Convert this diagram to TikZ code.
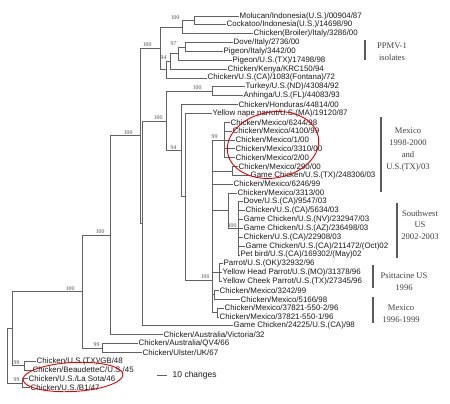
\documentclass[tikz,border=0pt]{standalone}
\usepackage{fontspec}
\setmainfont{Liberation Serif}
\newfontfamily\labelfont{Liberation Sans}
\usepackage{tikz}
\usetikzlibrary{shapes.geometric, positioning}

\tikzstyle{leaf}   = [anchor=west, inner sep=0.5pt, text=black!90, font=\labelfont\fontsize{7.9}{8}\selectfont]
\tikzstyle{branch} = [draw=black!62, line width=0.8pt]
\tikzstyle{boot}   = [anchor=south east, inner sep=0.3pt, text=black!70, font=\fontsize{5.8}{6}\selectfont]
\tikzstyle{note}   = [align=center, text=black!75, font=\fontsize{8.6}{11.8}\selectfont]
\tikzstyle{bar}    = [rectangle, fill=black!65, minimum width=2.4pt, inner sep=0pt]
\tikzstyle{ring}   = [ellipse, draw=red!90!black, line width=0.9pt, inner sep=0pt]

\begin{document}
\begin{tikzpicture}[x=1pt, y=-1pt]

\useasboundingbox (0,0) rectangle (450,404);

\coordinate (root)   at (7,356);
\coordinate (up)     at (12,328.6);
\coordinate (lsb1)   at (22,383.3);
\coordinate (gbbe)   at (24,365.6);
\coordinate (vir)    at (82,291.55);
\coordinate (aus)    at (102,347.9);
\coordinate (vir2)   at (110,235.2);
\coordinate (mid)    at (140,135.8);
\coordinate (ppmv)   at (160,48.35);
\coordinate (bird1)  at (182,27.05);
\coordinate (indo)   at (194,20.4);
\coordinate (pig3)   at (166,69.65);
\coordinate (pig2)   at (170,61.35);
\coordinate (pig1)   at (178,53.6);
\coordinate (pigeu)  at (185,47);
\coordinate (amer)   at (142,223.3);
\coordinate (amer2)  at (166,120.9);
\coordinate (tuan)   at (212,91.2);
\coordinate (hond2)  at (181,150.6);
\coordinate (ynp)    at (185,196.7);
\coordinate (mexus)  at (212,280);
\coordinate (mx99)   at (224,139.9);
\coordinate (mxtx)   at (232,170.9);
\coordinate (sw3313) at (228,210.7);
\coordinate (swus)   at (238,228.4);
\coordinate (psitt)  at (219,272.65);
\coordinate (mx9899) at (214,294.8);
\coordinate (mx96)   at (217,312.5);

\node (mol)       [leaf] at (239,16)     {Molucan/Indonesia(U.S.)/00904/87};
\node (cock)      [leaf] at (226,24.85)  {Cockatoo/Indonesia(U.S.)/14698/90};
\node (broil)     [leaf] at (253,33.7)   {Chicken(Broiler)/Italy/3286/00};
\node (doveit)    [leaf] at (233,42.55)  {Dove/Italy/2736/00};
\node (pigit)     [leaf] at (223,51.4)   {Pigeon/Italy/3442/00};
\node (pigtx)     [leaf] at (232,60.25)  {Pigeon/U.S.(TX)/17498/98};
\node (kenya)     [leaf] at (227,69.1)   {Chicken/Kenya/KRC150/94};
\node (fontana)   [leaf] at (207,77.95)  {Chicken/U.S.(CA)/1083(Fontana)/72};
\node (turkey)    [leaf] at (245,86.8)   {Turkey/U.S.(ND)/43084/92};
\node (anhinga)   [leaf] at (243,95.65)  {Anhinga/U.S.(FL)/44083/93};
\node (hond)      [leaf] at (238,104.5)  {Chicken/Honduras/44814/00};
\node (ynape)     [leaf] at (212,113.35) {Yellow nape parrot/U.S.(MA)/19120/87};
\node (mex6244)   [leaf] at (230,122.2)  {Chicken/Mexico/6244/98};
\node (mex4100)   [leaf] at (232,131.05) {Chicken/Mexico/4100/99};
\node (mex1)      [leaf] at (235,139.9)  {Chicken/Mexico/1/00};
\node (mex3310)   [leaf] at (235,148.75) {Chicken/Mexico/3310/00};
\node (mex2)      [leaf] at (235,157.6)  {Chicken/Mexico/2/00};
\node (mex290)    [leaf] at (238,166.45) {Chicken/Mexico/290/00};
\node (gametx)    [leaf] at (250,175.3)  {Game Chicken/U.S.(TX)/248306/03};
\node (mex6246)   [leaf] at (233,184.15) {Chicken/Mexico/6246/99};
\node (mex3313)   [leaf] at (237,193)    {Chicken/Mexico/3313/00};
\node (doveca)    [leaf] at (243,201.85) {Dove/U.S.(CA)/9547/03};
\node (ca5634)    [leaf] at (245,210.7)  {Chicken/U.S.(CA)/5634/03};
\node (gamenv)    [leaf] at (243,219.55) {Game Chicken/U.S.(NV)/232947/03};
\node (gameaz)    [leaf] at (243,228.4)  {Game Chicken/U.S.(AZ)/236498/03};
\node (ca22908)   [leaf] at (243,237.25) {Chicken/U.S.(CA)/22908/03};
\node (gameca)    [leaf] at (245,246.1)  {Game Chicken/U.S.(CA)/211472/(Oct)02};
\node (petbird)   [leaf] at (240,254.95) {Pet bird/U.S.(CA)/169302/(May)02};
\node (parrotok)  [leaf] at (223,263.8)  {Parrot/U.S.(OK)/32932/96};
\node (yhparrot)  [leaf] at (222,272.65) {Yellow Head Parrot/U.S.(MO)/31378/96};
\node (ycparrot)  [leaf] at (222,281.5)  {Yellow Cheek Parrot/U.S.(TX)/27345/96};
\node (mex3242)   [leaf] at (219,290.35) {Chicken/Mexico/3242/99};
\node (mex5166)   [leaf] at (240,299.2)  {Chicken/Mexico/5166/98};
\node (mex5502)   [leaf] at (224,308.05) {Chicken/Mexico/37821-550-2/96};
\node (mex5501)   [leaf] at (219,316.9)  {Chicken/Mexico/37821-550-1/96};
\node (game24225) [leaf] at (233,325.75) {Game Chicken/24225/U.S.(CA)/98};
\node (ausvic)    [leaf] at (163,334.6)  {Chicken/Australia/Victoria/32};
\node (ausqv4)    [leaf] at (138,343.45) {Chicken/Australia/QV4/66};
\node (ulster)    [leaf] at (142,352.3)  {Chicken/Ulster/UK/67};
\node (gb48)      [leaf] at (36,361.15)  {Chicken/U.S.(TX)/GB/48};
\node (beau45)    [leaf] at (32,370)     {Chicken/BeaudetteC/U.S./45};
\node (lasota)    [leaf] at (28,378.85)  {Chicken/U.S./La Sota/46};
\node (bone)      [leaf] at (30,387.7)   {Chicken/U.S./B1/47};

\draw [branch] (root)   |- (up);
\draw [branch] (root)   |- (lsb1);
\draw [branch] (up)     |- (vir);
\draw [branch] (up)     |- (gbbe);
\draw [branch] (gbbe)   |- (gb48.west);
\draw [branch] (gbbe)   |- (beau45.west);
\draw [branch] (lsb1)   |- (lasota.west);
\draw [branch] (lsb1)   |- (bone.west);
\draw [branch] (vir)    |- (vir2);
\draw [branch] (vir)    |- (aus);
\draw [branch] (aus)    |- (ausqv4.west);
\draw [branch] (aus)    |- (ulster.west);
\draw [branch] (vir2)   |- (mid);
\draw [branch] (vir2)   |- (ausvic.west);
\draw [branch] (mid)    |- (ppmv);
\draw [branch] (mid)    |- (amer);
\draw [branch] (ppmv)   |- (bird1);
\draw [branch] (ppmv)   |- (pig3);
\draw [branch] (bird1)  |- (indo);
\draw [branch] (bird1)  |- (broil.west);
\draw [branch] (indo)   |- (mol.west);
\draw [branch] (indo)   |- (cock.west);
\draw [branch] (pig3)   |- (pig2);
\draw [branch] (pig3)   |- (fontana.west);
\draw [branch] (pig2)   |- (pig1);
\draw [branch] (pig2)   |- (kenya.west);
\draw [branch] (pig1)   |- (pigeu);
\draw [branch] (pig1)   |- (pigtx.west);
\draw [branch] (pigeu)  |- (doveit.west);
\draw [branch] (pigeu)  |- (pigit.west);
\draw [branch] (amer)   |- (amer2);
\draw [branch] (amer)   |- (game24225.west);
\draw [branch] (amer2)  |- (tuan);
\draw [branch] (amer2)  |- (hond2);
\draw [branch] (tuan)   |- (turkey.west);
\draw [branch] (tuan)   |- (anhinga.west);
\draw [branch] (hond2)  |- (hond.west);
\draw [branch] (hond2)  |- (ynp);
\draw [branch] (ynp)    |- (ynape.west);
\draw [branch] (ynp)    |- (mexus);
\draw [branch] (mexus)  |- (mx99);
\draw [branch] (mexus)  |- (mxtx);
\draw [branch] (mexus)  |- (mex6246.west);
\draw [branch] (mexus)  |- (sw3313);
\draw [branch] (mexus)  |- (psitt);
\draw [branch] (mexus)  |- (mx9899);
\draw [branch] (mexus)  |- (mx96);
\draw [branch] (mx99)   |- (mex6244.west);
\draw [branch] (mx99)   |- (mex4100.west);
\draw [branch] (mx99)   |- (mex1.west);
\draw [branch] (mx99)   |- (mex3310.west);
\draw [branch] (mx99)   |- (mex2.west);
\draw [branch] (mxtx)   |- (mex290.west);
\draw [branch] (mxtx)   |- (gametx.west);
\draw [branch] (sw3313) |- (mex3313.west);
\draw [branch] (sw3313) |- (swus);
\draw [branch] (swus)   |- (doveca.west);
\draw [branch] (swus)   |- (ca5634.west);
\draw [branch] (swus)   |- (gamenv.west);
\draw [branch] (swus)   |- (gameaz.west);
\draw [branch] (swus)   |- (ca22908.west);
\draw [branch] (swus)   |- (gameca.west);
\draw [branch] (swus)   |- (petbird.west);
\draw [branch] (psitt)  |- (parrotok.west);
\draw [branch] (psitt)  |- (yhparrot.west);
\draw [branch] (psitt)  |- (ycparrot.west);
\draw [branch] (mx9899) |- (mex3242.west);
\draw [branch] (mx9899) |- (mex5166.west);
\draw [branch] (mx96)   |- (mex5502.west);
\draw [branch] (mx96)   |- (mex5501.west);

\node (bsindo)  [boot] at ([shift={(-14pt,0.8pt)}]indo)  {100};
\node (bspigeu) [boot] at ([shift={(-8pt,0.8pt)}]pigeu)  {97};
\node (bspig2)  [boot] at ([shift={(-3pt,0.8pt)}]pig2)   {94};
\node (bsppmv)  [boot] at ([shift={(-8pt,0.8pt)}]ppmv)   {100};
\node (bsmid)   [boot] at ([shift={(-7pt,0.8pt)}]mid)    {100};
\node (bstuan)  [boot] at ([shift={(-10pt,0.8pt)}]tuan)  {100};
\node (bsamer2) [boot] at ([shift={(-3pt,0.8pt)}]amer2)  {100};
\node (bshond2) [boot] at ([shift={(-4pt,0.8pt)}]hond2)  {94};
\node (bsvir)   [boot] at ([shift={(-7pt,0.8pt)}]vir)    {100};
\node (bsvir2)  [boot] at ([shift={(-5pt,0.8pt)}]vir2)   {100};
\node (bsmx99)  [boot] at ([shift={(-6pt,0.8pt)}]mx99)   {99};
\node (bsswus)  [boot] at ([shift={(-1pt,0.8pt)}]swus)   {100};
\node (bsmexus) [boot] at ([shift={(-2pt,0.8pt)}]mexus)  {100};
\node (bsaus)   [boot] at ([shift={(-2pt,0.8pt)}]aus)    {99};
\node (bsgbbe)  [boot] at ([shift={(-4pt,0.8pt)}]gbbe)   {99};
\node (bslsb1)  [boot] at ([shift={(-2pt,0.8pt)}]lsb1)   {99};

\node (ppmvbar)  [bar, minimum height=20pt] at (365,50)    {};
\node (ppmvnote) [note] at (392,52)    {PPMV-1\\isolates};
\node (mexbar)   [bar, minimum height=75pt] at (381,154.5) {};
\node (mexnote)  [note] at (408,149.5) {Mexico\\1998-2000\\and\\U.S.(TX)/03};
\node (swbar)    [bar, minimum height=55pt] at (397,230.5) {};
\node (swnote)   [note] at (420,225)   {Southwest\\US\\2002-2003};
\node (psbar)    [bar, minimum height=23pt] at (373,276.5) {};
\node (psnote)   [note] at (404,281.5) {Psittacine US\\1996};
\node (mx96bar)  [bar, minimum height=26pt] at (373,310)   {};
\node (mx96note) [note] at (401,313.5) {Mexico\\1996-1999};

\coordinate (sc0) at (157,375);
\coordinate (sc1) at (167,375);
\draw [branch] (sc0) -- (sc1);
\node (scale) [leaf, font=\labelfont\fontsize{8.5}{9}\selectfont] at (172,375) {10 changes};

\node (mexring) [ring, minimum width=92pt, minimum height=66pt, rotate=10] at (273,145) {};
\node (lsring)  [ring, minimum width=100pt, minimum height=29pt, rotate=3] at (73,377) {};

\end{tikzpicture}
\end{document}
